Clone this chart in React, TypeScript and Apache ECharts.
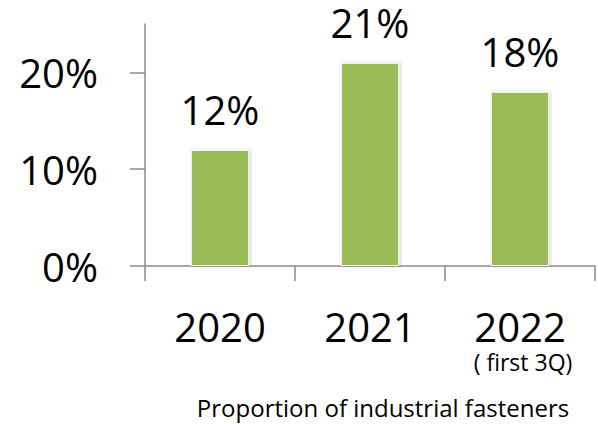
import React, { useEffect, useRef } from "react";
import * as echarts from "echarts";

const categories = ["2020", "2021", "2022"];
const notes = ["", "", "( first 3Q)"];
const values = [12, 21, 18];
const yTicks = [0, 10, 20];
const caption = "Proportion of industrial fasteners";

const FONT = "'Open Sans', 'Noto Sans', sans-serif";

export default function App() {
  const ref = useRef<HTMLDivElement>(null);
  useEffect(() => {
    document.body.style.margin = "0";
    const chart = echarts.init(ref.current!, null, { renderer: "svg" });
    chart.setOption({
      animation: false,
      backgroundColor: "#ffffff",
      grid: { left: 145, right: 3, top: 24, bottom: 158, containLabel: false },
      xAxis: {
        type: "category",
        data: categories,
        axisLine: { lineStyle: { color: "#8a8a8a", width: 1.5 } },
        axisTick: { show: true, interval: 0, length: 15, lineStyle: { color: "#8a8a8a", width: 1.5 } },
        axisLabel: {
          interval: 0,
          hideOverlap: false,
          margin: 37,
          color: "#000",
          fontFamily: FONT,
          fontSize: 40,
          lineHeight: 46,
          formatter: (v: string) => {
            const i = categories.indexOf(v);
            return notes[i] ? `${v}\n{s|${notes[i]}}` : v;
          },
          rich: {
            s: { fontFamily: FONT, fontSize: 23, lineHeight: 26, color: "#000", padding: [0, 0, 0, 6] },
          },
        },
      },
      yAxis: {
        type: "value",
        min: 0,
        max: 25,
        interval: 10,
        splitLine: { show: false },
        axisLine: { show: true, lineStyle: { color: "#8a8a8a", width: 1.5 } },
        axisTick: {
          show: true,
          length: 15,
          customValues: yTicks,
          lineStyle: { color: "#8a8a8a", width: 1.5 },
        },
        axisLabel: {
          customValues: yTicks,
          margin: 47,
          color: "#000",
          fontFamily: FONT,
          fontSize: 40,
          formatter: (v: number) => `${v}%`,
        },
      },
      series: [
        {
          type: "bar",
          data: values,
          barWidth: "39%",
          itemStyle: {
            color: "#9bbb59",
            borderColor: "#ffffff",
            borderWidth: 1,
            shadowBlur: 3,
            shadowColor: "rgba(0,0,0,0.25)",
            shadowOffsetX: 1,
            shadowOffsetY: 0,
          },
          label: {
            show: true,
            position: "top",
            distance: 20,
            color: "#000",
            fontFamily: FONT,
            fontSize: 40,
            formatter: "{c}%",
          },
        },
      ],
      graphic: [
        {
          type: "text",
          x: 383,
          y: 407,
          style: {
            text: caption,
            fill: "#000",
            font: `24px ${FONT}`,
            textAlign: "center",
            textVerticalAlign: "middle",
          },
        },
      ],
    });
    return () => chart.dispose();
  }, []);
  return <div ref={ref} style={{ width: 598, height: 424 }} />;
}
